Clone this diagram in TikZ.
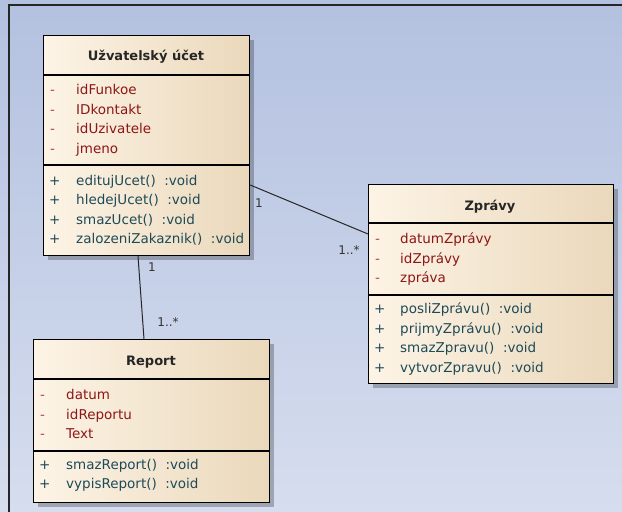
\documentclass[tikz,border=0pt]{standalone}
\usepackage{fontspec}
\setmainfont{DejaVu Sans}
\usetikzlibrary{shadows,calc}
\definecolor{bgtop}{HTML}{B3C1E0}
\definecolor{bgbot}{HTML}{D6DDEE}
\definecolor{boxl}{HTML}{FDF4E6}
\definecolor{boxr}{HTML}{EAD8BB}
\definecolor{attr}{HTML}{8E1616}
\definecolor{dash}{HTML}{C03A3A}
\definecolor{meth}{HTML}{1E4A58}
\tikzset{
  classbox/.style={draw=black, line width=1.2pt, left color=boxl, right color=boxr, anchor=north west, inner sep=0pt,
    drop shadow={shadow xshift=4pt, shadow yshift=-4pt, fill=black, opacity=0.25}},
  sep/.style={draw=black, line width=1.2pt},
  title/.style={font=\fontsize{13}{15}\selectfont\bfseries, text=black!85},
  mem/.style={font=\fontsize{13.5}{15}\selectfont, anchor=west, inner sep=0pt, text height=10pt, text depth=3pt},
  atr/.style={mem, text=attr},
  atrv/.style={mem, text=dash},
  mth/.style={mem, text=meth},
  mult/.style={font=\fontsize{12}{14}\selectfont, text=black!80, inner sep=0pt},
  assoc/.style={draw=black!85, line width=1pt}
}
\begin{document}
\begin{tikzpicture}[x=1pt,y=-1pt]
\useasboundingbox (0,0) rectangle (622,512);
\fill[top color=bgtop, bottom color=bgbot] (0,0) rectangle (622,512);
\draw[line width=2pt, black!85] (622,5) -- (9,5) -- (9,512);

% Uzivatelsky ucet
\node[classbox, minimum width=206pt, minimum height=220pt] (ucet) at (43,35) {};
\draw[sep] (43,75) -- (249,75);
\draw[sep] (43,165) -- (249,165);
\node[title] (ucetT) at (146,57) {Užvatelský účet};
\node[atrv] (u1d) at (50,91) {-};   \node[atr] (u1) at (76,91) {idFunkoe};
\node[atrv] (u2d) at (50,110.5) {-};\node[atr] (u2) at (76,110.5) {IDkontakt};
\node[atrv] (u3d) at (50,130) {-};  \node[atr] (u3) at (76,130) {idUzivatele};
\node[atrv] (u4d) at (50,149.5) {-};\node[atr] (u4) at (76,149.5) {jmeno};
\node[mth] (m1d) at (49,182) {+};   \node[mth] (m1) at (76,182) {editujUcet()~~:void};
\node[mth] (m2d) at (49,201) {+};   \node[mth] (m2) at (76,201) {hledejUcet()~~:void};
\node[mth] (m3d) at (49,220.5) {+}; \node[mth] (m3) at (76,220.5) {smazUcet()~~:void};
\node[mth] (m4d) at (49,240) {+};   \node[mth] (m4) at (76,240) {zalozeniZakaznik()~~:void};

% Zpravy
\node[classbox, minimum width=245pt, minimum height=199pt] (zpravy) at (368,184) {};
\draw[sep] (368,223) -- (613,223);
\draw[sep] (368,295) -- (613,295);
\node[title] (zpravyT) at (490,207) {Zprávy};
\node[atrv] (z1d) at (375,240) {-}; \node[atr] (z1) at (400,240) {datumZprávy};
\node[atrv] (z2d) at (375,259.5) {-};\node[atr] (z2) at (400,259.5) {idZprávy};
\node[atrv] (z3d) at (375,279) {-}; \node[atr] (z3) at (400,279) {zpráva};
\node[mth] (zm1d) at (374,310) {+}; \node[mth] (zm1) at (400,310) {posliZprávu()~~:void};
\node[mth] (zm2d) at (374,329.5) {+};\node[mth] (zm2) at (400,329.5) {prijmyZprávu()~~:void};
\node[mth] (zm3d) at (374,349) {+}; \node[mth] (zm3) at (400,349) {smazZpravu()~~:void};
\node[mth] (zm4d) at (374,368.5) {+};\node[mth] (zm4) at (400,368.5) {vytvorZpravu()~~:void};

% Report
\node[classbox, minimum width=236pt, minimum height=163pt] (report) at (33,339) {};
\draw[sep] (33,379) -- (269,379);
\draw[sep] (33,451) -- (269,451);
\node[title] (reportT) at (151,362) {Report};
\node[atrv] (r1d) at (40,396) {-}; \node[atr] (r1) at (66,396) {datum};
\node[atrv] (r2d) at (40,415.5) {-};\node[atr] (r2) at (66,415.5) {idReportu};
\node[atrv] (r3d) at (40,435) {-}; \node[atr] (r3) at (66,435) {Text};
\node[mth] (rm1d) at (39,466) {+}; \node[mth] (rm1) at (66,466) {smazReport()~~:void};
\node[mth] (rm2d) at (39,485) {+}; \node[mth] (rm2) at (66,485) {vypisReport()~~:void};

% associations
\coordinate (a1) at ($(ucet.north east)+(0,150)$);
\coordinate (a2) at ($(zpravy.north west)+(0,50)$);
\coordinate (b1) at ($(ucet.south west)+(95,0)$);
\coordinate (b2) at ($(report.north west)+(111,0)$);
\draw[assoc] (a1) -- (a2);
\draw[assoc] (b1) -- (b2);
\node[mult] (l1) at (259,203) {1};
\node[mult] (l2) at (349,250) {1..*};
\node[mult] (l3) at (152,267) {1};
\node[mult] (l4) at (168,322) {1..*};
\end{tikzpicture}
\end{document}
